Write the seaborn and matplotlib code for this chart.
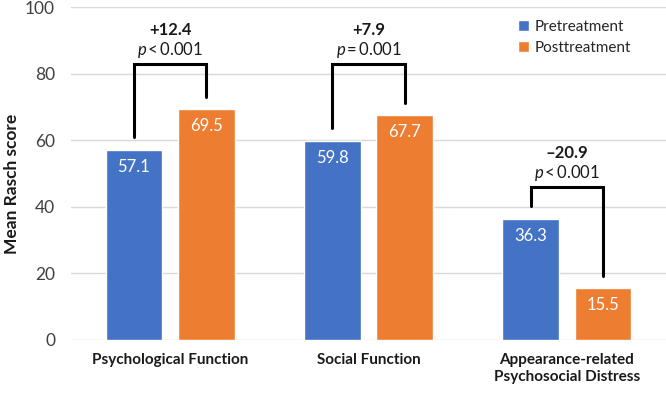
import matplotlib
matplotlib.use("Agg")
import matplotlib.pyplot as plt
import seaborn as sns
import pandas as pd

categories = ["Psychological Function", "Social Function", "Appearance-related\nPsychosocial Distress"]
series_names = ["Pretreatment", "Posttreatment"]
pre_values = [57.1, 59.8, 36.3]
post_values = [69.5, 67.7, 15.5]
diff_labels = ["+12.4", "+7.9", "\u201320.9"]
p_labels = ["<\u20090.001", "=\u20090.001", "<\u20090.001"]
y_ticks = [0, 20, 40, 60, 80, 100]

colors = ["#4472C4", "#ED7D31"]
FONT = "Lato"

sns.set_theme(style="white")
plt.rcParams["font.family"] = [FONT, "DejaVu Sans"]
plt.rcParams["mathtext.fontset"] = "custom"
plt.rcParams["mathtext.it"] = f"{FONT}:italic"
plt.rcParams["mathtext.rm"] = FONT

df = pd.DataFrame({
    "category": categories * 2,
    "group": [series_names[0]] * 3 + [series_names[1]] * 3,
    "value": pre_values + post_values,
})

fig = plt.figure(figsize=(6.66, 3.93), dpi=100)
ax = fig.add_axes([71 / 666, 1 - 339.5 / 393, 1 - 71 / 666, (339.5 - 7.3) / 393])

sns.barplot(data=df, x="category", y="value", hue="group", palette=colors,
            width=0.73, gap=0.22, saturation=1, ax=ax, errorbar=None,
            order=categories, hue_order=series_names)

ax.set_ylim(0, 100)
ax.set_xlim(-0.5, 2.5)
ax.set_yticks(y_ticks)
ax.set_yticklabels([str(t) for t in y_ticks], fontsize=12.5, color="#404040")
ax.tick_params(axis="y", length=0, pad=11.5)
ax.tick_params(axis="x", length=0, pad=10)
for lbl in ax.get_xticklabels():
    lbl.set_fontweight("bold")
    lbl.set_fontsize(11)
    lbl.set_color("#1a1a1a")
ax.set_xlabel("")
ax.set_ylabel("")
fig.text(12 / 666, 1 - 184 / 393, "Mean Rasch score", rotation=90, ha="center", va="center",
         fontsize=12.5, fontweight="bold", color="#1a1a1a")
ax.yaxis.grid(True, color="#d9d9d9", linewidth=1)
ax.set_axisbelow(True)
for s in ax.spines.values():
    s.set_visible(False)

# value labels inside bars
for cont in ax.containers:
    for p in cont:
        h = p.get_height()
        ax.text(p.get_x() + p.get_width() / 2, h - 5.1, f"{h:.1f}",
                ha="center", va="center", color="white", fontsize=12)

# brackets
pre_bars = list(ax.containers[0])
post_bars = list(ax.containers[1])
bracket_tops = [83, 83, 46]
for i in range(3):
    xl = pre_bars[i].get_x() + pre_bars[i].get_width() / 2
    xr = post_bars[i].get_x() + post_bars[i].get_width() / 2
    top = bracket_tops[i]
    yl = pre_values[i] + 4.0
    yr = post_values[i] + 3.5
    ax.plot([xl, xl, xr, xr], [yl, top, top, yr], color="black", lw=2.2,
            solid_joinstyle="miter", clip_on=False)
    xm = (xl + xr) / 2
    ax.text(xm, top + 4.1, r"$\mathit{p}$" + "\u2009" + p_labels[i], ha="center", va="center",
            fontsize=12, color="#1a1a1a")
    ax.text(xm, top + 10.1, diff_labels[i], ha="center", va="center",
            fontsize=12, fontweight="bold", color="#1a1a1a")

leg = ax.legend(loc="upper left", bbox_to_anchor=(518 / 666, 1 - 20 / 393),
                bbox_transform=fig.transFigure, frameon=False, fontsize=11,
                handlelength=0.7, handleheight=0.7, handletextpad=0.4,
                labelspacing=0.45, borderpad=0, borderaxespad=0)
for t in leg.get_texts():
    t.set_color("#262626")

fig.savefig("out.png", dpi=100)
